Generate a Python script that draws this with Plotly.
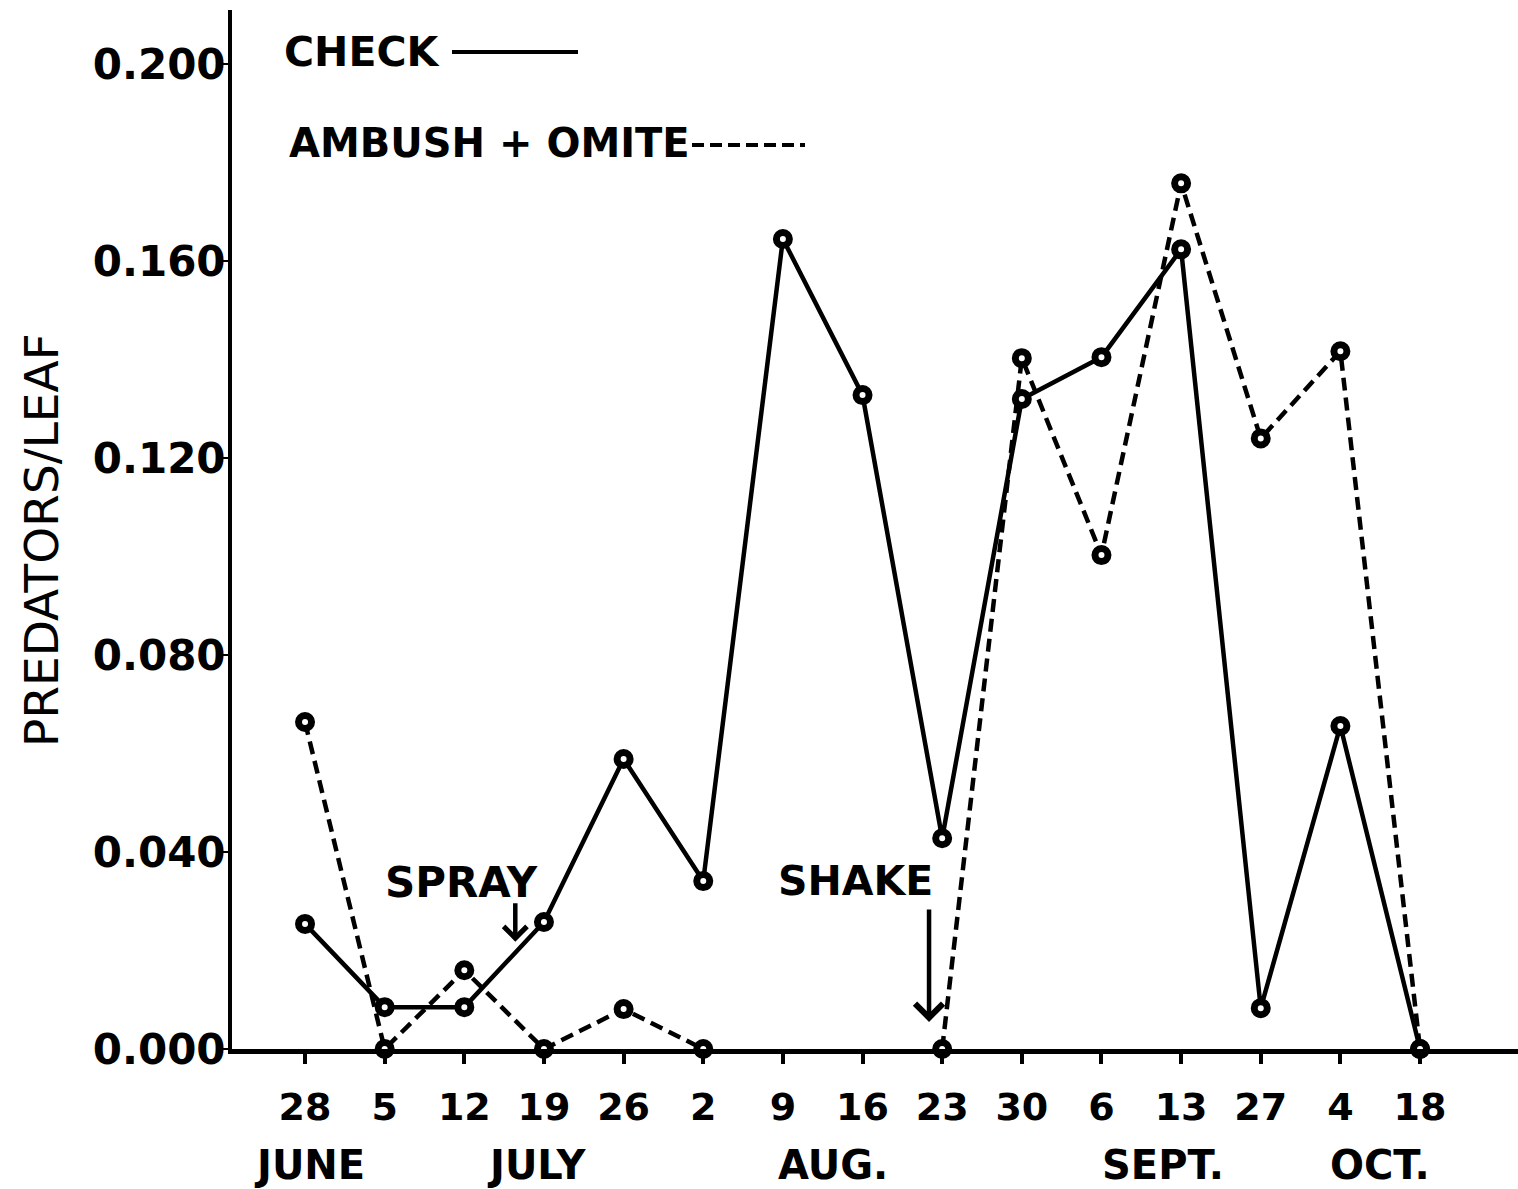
import plotly.graph_objects as go

# Sampling dates (tick labels) and their month groupings
dates = ["28", "5", "12", "19", "26", "2", "9", "16", "23", "30", "6", "13", "27", "4", "18"]
months = ["JUNE", "JULY", "AUG.", "SEPT.", "OCT."]
month_pos = [0.06, 2.91, 6.63, 10.77, 13.5]

# Predators per leaf
check = [0.0254, 0.0085, 0.0085, 0.0258, 0.0589, 0.0341, 0.1645, 0.1328,
         0.0428, 0.1320, 0.1405, 0.1624, 0.0083, 0.0656, 0.0]
ambush_omite = [0.0664, 0.0, 0.0160, 0.0, 0.0081, 0.0, None, None,
                0.0, 0.1403, 0.1003, 0.1758, 0.1240, 0.1417, 0.0]

yticks = [0.0, 0.04, 0.08, 0.12, 0.16, 0.2]

x = list(range(len(dates)))
FONT = "DejaVu Sans"
marker = dict(symbol="circle", size=13, color="white", line=dict(color="black", width=7))

fig = go.Figure()
fig.add_trace(go.Scatter(
    x=x, y=check, mode="lines+markers", name="CHECK",
    line=dict(color="black", width=4.5), marker=marker, cliponaxis=False,
))
fig.add_trace(go.Scatter(
    x=x, y=ambush_omite, mode="lines+markers", name="AMBUSH + OMITE",
    connectgaps=False,
    line=dict(color="black", width=4.5, dash="13px,7px"), marker=marker, cliponaxis=False,
))

fig.update_layout(
    width=1518, height=1189,
    margin=dict(l=232, r=0, t=10, b=140),
    paper_bgcolor="white", plot_bgcolor="white",
    showlegend=False,
    font=dict(family=FONT, color="black"),
)

fig.update_xaxes(
    range=[-0.917, 15.23],
    tickmode="array", tickvals=x, ticktext=dates,
    ticks="outside", ticklen=10, tickwidth=4, tickcolor="black",
    ticklabelstandoff=10,
    tickfont=dict(family=FONT, size=38, color="black", weight="bold"),
    showline=True, linecolor="black", linewidth=5,
    showgrid=False, zeroline=False,
)
fig.update_yaxes(
    range=[0, 0.211],
    tickmode="array", tickvals=yticks, ticktext=[f"{v:.3f}" for v in yticks],
    ticks="outside", ticklen=6, tickwidth=2, tickcolor="black",
    ticklabelstandoff=-12,
    tickfont=dict(family=FONT, size=42, color="black", weight="bold"),
    showline=True, linecolor="black", linewidth=4,
    showgrid=False, zeroline=False,
)

annotations = []
# Month labels under the dates
for name, pos in zip(months, month_pos):
    annotations.append(dict(
        x=pos, y=-0.1116, xref="x", yref="paper", text=name, showarrow=False,
        font=dict(family=FONT, size=40, color="black", weight="bold"),
        xanchor="center", yanchor="middle",
    ))

# Y-axis title
annotations.append(dict(
    x=-0.1477, y=0.49, xref="paper", yref="paper", text="PREDATORS/LEAF",
    textangle=-90, showarrow=False,
    font=dict(family=FONT, size=47, color="black"),
    xanchor="center", yanchor="middle",
))

# Legend labels
annotations.append(dict(
    x=0.0389, y=0.9596, xref="paper", yref="paper", text="CHECK", showarrow=False,
    font=dict(family=FONT, size=41, color="black", weight="bold"),
    xanchor="left", yanchor="middle",
))
annotations.append(dict(
    x=0.0428, y=0.872, xref="paper", yref="paper", text="AMBUSH + OMITE", showarrow=False,
    font=dict(family=FONT, size=40, color="black", weight="bold"),
    xanchor="left", yanchor="middle",
))

# Event labels and arrows
annotations.append(dict(
    x=1.97, y=0.0339, xref="x", yref="y", text="SPRAY", showarrow=False,
    font=dict(family=FONT, size=42, color="black", weight="bold"),
    xanchor="center", yanchor="middle",
))
annotations.append(dict(
    x=2.64, y=0.0218, xref="x", yref="y", text="", showarrow=True,
    ax=0, ay=-40, arrowhead=4, arrowsize=1.0, arrowwidth=4.5, arrowcolor="black",
))
annotations.append(dict(
    x=6.91, y=0.0341, xref="x", yref="y", text="SHAKE", showarrow=False,
    font=dict(family=FONT, size=41, color="black", weight="bold"),
    xanchor="center", yanchor="middle",
))
annotations.append(dict(
    x=7.835, y=0.0055, xref="x", yref="y", text="", showarrow=True,
    ax=0, ay=-114, arrowhead=4, arrowsize=1.2, arrowwidth=4.5, arrowcolor="black",
))
fig.update_layout(annotations=annotations)

# Legend line samples
fig.add_shape(type="line", xref="paper", yref="paper",
              x0=(452 - 232) / 1286, x1=(578 - 232) / 1286, y0=0.9596, y1=0.9596,
              line=dict(color="black", width=4))
fig.add_shape(type="line", xref="paper", yref="paper",
              x0=(692 - 232) / 1286, x1=(805 - 232) / 1286, y0=0.870, y1=0.870,
              line=dict(color="black", width=4, dash="12px,6px"))

fig.write_html("out.html")
